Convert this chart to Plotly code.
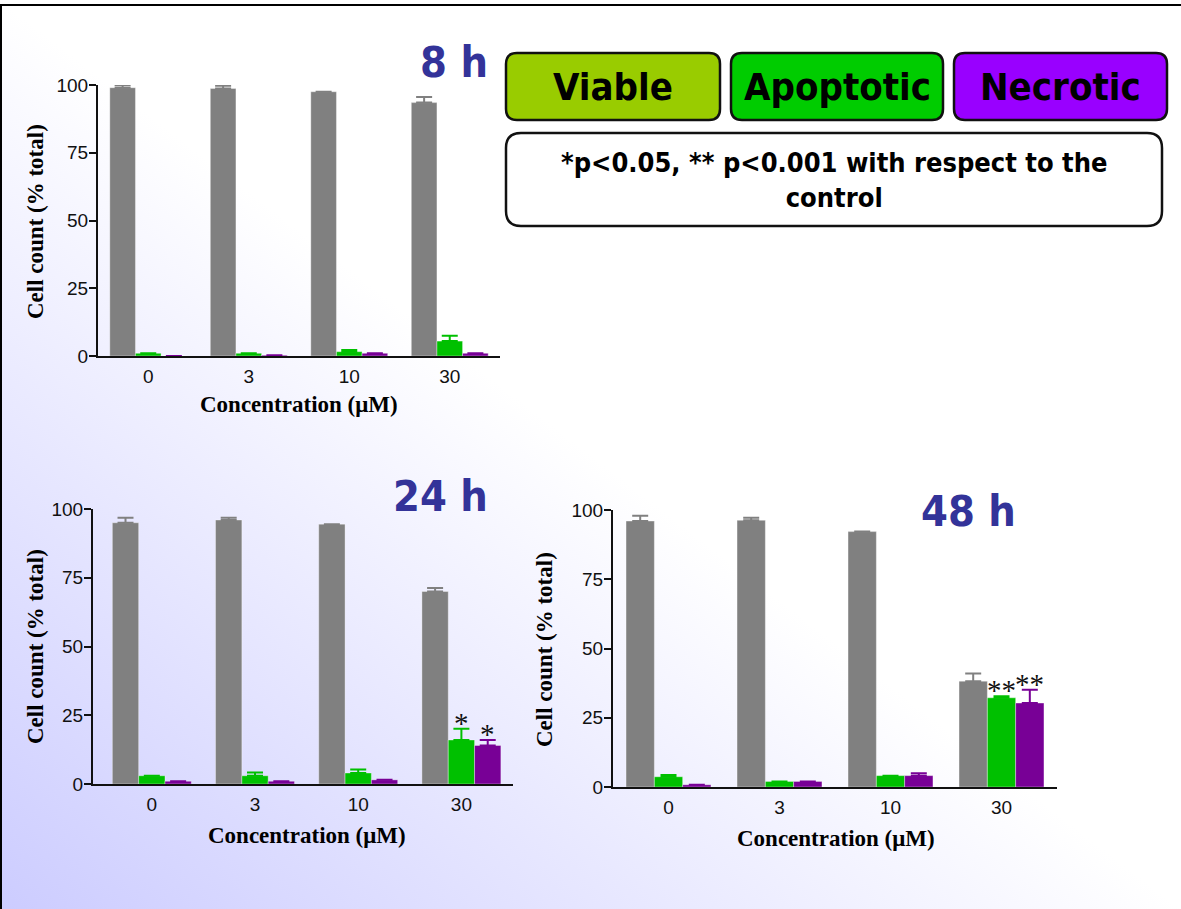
import base64
import plotly.graph_objects as go

W, H = 1181, 909

# ---- data -------------------------------------------------------------
concentrations = ["0", "3", "10", "30"]

viable_8h = [99.0, 98.7, 97.5, 93.5]
viable_8h_err = [0.9, 1.0, 0.0, 2.1]
apoptotic_8h = [1.0, 1.0, 1.6, 5.5]
apoptotic_8h_err = [0.0, 0.0, 0.6, 2.0]
necrotic_8h = [0.0, 0.3, 1.0, 1.0]
necrotic_8h_err = [0.0, 0.0, 0.0, 0.0]

viable_24h = [95.0, 96.0, 94.5, 70.0]
viable_24h_err = [1.8, 0.8, 0.0, 1.3]
apoptotic_24h = [3.0, 3.0, 4.0, 16.0]
apoptotic_24h_err = [0.0, 1.2, 1.3, 4.1]
necrotic_24h = [1.0, 1.0, 1.5, 14.0]
necrotic_24h_err = [0.0, 0.0, 0.0, 2.0]

viable_48h = [96.0, 96.3, 92.2, 38.2]
viable_48h_err = [1.9, 0.9, 0.0, 2.8]
apoptotic_48h = [3.7, 2.0, 4.1, 32.2]
apoptotic_48h_err = [0.6, 0.0, 0.0, 0.6]
necrotic_48h = [0.8, 2.0, 4.1, 30.3]
necrotic_48h_err = [0.0, 0.0, 0.9, 4.8]

# significance marks: (panel, series, category, label)
significance = [
    ("24 h", "apoptotic", "30", "*"),
    ("24 h", "necrotic", "30", "*"),
    ("48 h", "apoptotic", "30", "**"),
    ("48 h", "necrotic", "30", "**"),
]

GRAY = "#808080"
GREEN = "#00C000"
PURPLE = "#780096"
TITLE_BLUE = "#333399"
BOLD_SANS = "DejaVu Sans Condensed, DejaVu Sans, sans-serif"
SERIF = "Liberation Serif, Times New Roman, serif"
SANS = "Liberation Sans, Arial, sans-serif"
BARGAP = 0.235


def fx(p):
    return p / W


def fy(p):
    return 1 - p / H


# panel layout in pixels: axis box, category range, title/axis-label spots
panels = [
    dict(name="8 h", sfx="", box=(98, 85, 500, 356), xr=[-0.5, 3.5],
         title=(454, 62), ytitle=(35, 222), xtitle=(299, 405),
         data=(viable_8h, viable_8h_err, apoptotic_8h, apoptotic_8h_err,
               necrotic_8h, necrotic_8h_err)),
    dict(name="24 h", sfx="2", box=(93, 509, 513, 784), xr=[-0.57, 3.5],
         title=(440, 496), ytitle=(35, 647), xtitle=(307, 835),
         data=(viable_24h, viable_24h_err, apoptotic_24h, apoptotic_24h_err,
               necrotic_24h, necrotic_24h_err)),
    dict(name="48 h", sfx="3", box=(613, 510, 1057, 787), xr=[-0.5, 3.5],
         title=(968, 511), ytitle=(544, 650), xtitle=(836, 838),
         data=(viable_48h, viable_48h_err, apoptotic_48h, apoptotic_48h_err,
               necrotic_48h, necrotic_48h_err)),
]

fig = go.Figure()
layout_axes = {}
annotations = []

for p in panels:
    sfx = p["sfx"]
    xa, ya = "x" + sfx, "y" + sfx
    v, ve, a, ae, n, ne = p["data"]
    series = {"viable": (v, ve, GRAY), "apoptotic": (a, ae, GREEN),
              "necrotic": (n, ne, PURPLE)}
    for key, (vals, errs, col) in series.items():
        fig.add_trace(go.Bar(
            x=concentrations, y=vals, xaxis=xa, yaxis=ya, name=key,
            marker=dict(color=col, line=dict(color="rgba(255,255,255,0.35)", width=1)),
            error_y=dict(type="data", symmetric=False, array=errs,
                         arrayminus=[0] * len(errs), color=col,
                         thickness=2, width=8),
            showlegend=False,
        ))
    x0, y0, x1, y1 = p["box"]
    layout_axes["xaxis" + sfx] = dict(
        domain=[fx(x0), fx(x1)], anchor=ya, range=p["xr"], type="category",
        showline=True, linecolor="#111", linewidth=2, ticks="",
        ticklabelstandoff=2, showgrid=False, zeroline=False, automargin=False,
        tickfont=dict(family=SANS, size=19, color="#111"), fixedrange=True,
    )
    layout_axes["yaxis" + sfx] = dict(
        domain=[fy(y1), fy(y0)], anchor=xa, range=[0, 100],
        tickvals=[0, 25, 50, 75, 100], showline=True, linecolor="#111",
        linewidth=2, ticks="outside", ticklen=7, tickwidth=2, tickcolor="#111",
        ticklabelstandoff=-3,
        showgrid=False, zeroline=False, automargin=False,
        tickfont=dict(family=SANS, size=19, color="#111"), fixedrange=True,
    )
    # panel heading
    annotations.append(dict(
        text=f"<b>{p['name']}</b>", x=fx(p["title"][0]), y=fy(p["title"][1]),
        xref="paper", yref="paper", showarrow=False, xanchor="center",
        yanchor="middle", font=dict(family=BOLD_SANS, size=43, color=TITLE_BLUE)))
    # axis titles
    annotations.append(dict(
        text="<b>Cell count (% total)</b>", x=fx(p["ytitle"][0]),
        y=fy(p["ytitle"][1]), xref="paper", yref="paper", showarrow=False,
        textangle=-90, xanchor="center", yanchor="middle",
        font=dict(family=SERIF, size=23, color="#000")))
    annotations.append(dict(
        text="<b>Concentration (μM)</b>", x=fx(p["xtitle"][0]),
        y=fy(p["xtitle"][1]), xref="paper", yref="paper", showarrow=False,
        xanchor="center", yanchor="middle",
        font=dict(family=SERIF, size=23, color="#000")))
    # significance asterisks above the error bars
    unit_px = (x1 - x0) / (p["xr"][1] - p["xr"][0])
    bar_px = unit_px * (1 - BARGAP) / 3
    shift = {"viable": -bar_px, "apoptotic": 0.0, "necrotic": bar_px}
    for panel, key, cat, label in significance:
        if panel != p["name"]:
            continue
        vals, errs, _ = series[key]
        i = concentrations.index(cat)
        annotations.append(dict(
            text=label, x=i, y=vals[i] + errs[i], xref=xa, yref=ya,
            xshift=shift[key], yshift=-12, showarrow=False, xanchor="center",
            yanchor="bottom", font=dict(family=SERIF, size=29, color="#111")))


def rounded_box(x0, y0, x1, y1, r):
    return (f"M {fx(x0 + r)},{fy(y0)} L {fx(x1 - r)},{fy(y0)} "
            f"Q {fx(x1)},{fy(y0)} {fx(x1)},{fy(y0 + r)} "
            f"L {fx(x1)},{fy(y1 - r)} Q {fx(x1)},{fy(y1)} {fx(x1 - r)},{fy(y1)} "
            f"L {fx(x0 + r)},{fy(y1)} Q {fx(x0)},{fy(y1)} {fx(x0)},{fy(y1 - r)} "
            f"L {fx(x0)},{fy(y0 + r)} Q {fx(x0)},{fy(y0)} {fx(x0 + r)},{fy(y0)} Z")


shapes = []
legend_boxes = [("Viable", 506, 720, "#99CC00"),
                ("Apoptotic", 731, 943, "#00CC00"),
                ("Necrotic", 954, 1167, "#9900FF")]
for label, bx0, bx1, col in legend_boxes:
    shapes.append(dict(type="path", path=rounded_box(bx0, 53, bx1, 120, 11),
                       xref="paper", yref="paper", fillcolor=col,
                       line=dict(color="#111", width=2.5), layer="above"))
    annotations.append(dict(
        text=f"<b>{label}</b>", x=fx((bx0 + bx1) / 2), y=fy(87),
        xref="paper", yref="paper", showarrow=False, xanchor="center",
        yanchor="middle", font=dict(family=BOLD_SANS, size=38, color="#000")))

shapes.append(dict(type="path", path=rounded_box(506, 133, 1162, 226, 15),
                   xref="paper", yref="paper", fillcolor="#FFFFFF",
                   line=dict(color="#111", width=2.5), layer="above"))
annotations.append(dict(
    text="<b>*p<0.05, ** p<0.001 with respect to the<br>control</b>",
    x=fx(834), y=fy(180), xref="paper", yref="paper", showarrow=False,
    xanchor="center", yanchor="middle", align="center",
    font=dict(family=BOLD_SANS, size=27, color="#000")))

# frame lines along the top and left edges
shapes.append(dict(type="line", xref="paper", yref="paper", x0=0, x1=1,
                   y0=fy(5), y1=fy(5), line=dict(color="#000", width=2)))
shapes.append(dict(type="line", xref="paper", yref="paper", x0=fx(1), x1=fx(1),
                   y0=fy(5), y1=0, line=dict(color="#000", width=2)))

# diagonal lavender-to-white backdrop
svg = (f'<svg xmlns="http://www.w3.org/2000/svg" width="{W}" height="{H}" '
       f'viewBox="0 0 {W} {H}" preserveAspectRatio="none"><defs>'
       '<linearGradient id="g" x1="0" y1="1" x2="1" y2="0">'
       '<stop offset="0" stop-color="#CCCCFF"/>'
       '<stop offset="0.5" stop-color="#FFFFFF"/>'
       '</linearGradient></defs>'
       '<rect width="100%" height="100%" fill="url(#g)"/></svg>')
bg_src = "data:image/svg+xml;base64," + base64.b64encode(svg.encode()).decode()

fig.update_layout(
    width=W, height=H, autosize=False,
    margin=dict(l=0, r=0, t=0, b=0, pad=0, autoexpand=False),
    paper_bgcolor="#FFFFFF", plot_bgcolor="rgba(0,0,0,0)",
    barmode="group", bargap=BARGAP, bargroupgap=0,
    showlegend=False,
    images=[dict(source=bg_src, xref="paper", yref="paper", x=0, y=1,
                 sizex=1, sizey=1, sizing="stretch", xanchor="left",
                 yanchor="top", layer="below")],
    shapes=shapes, annotations=annotations,
    **layout_axes,
)

fig.write_html("out.html", config={"displayModeBar": False})
